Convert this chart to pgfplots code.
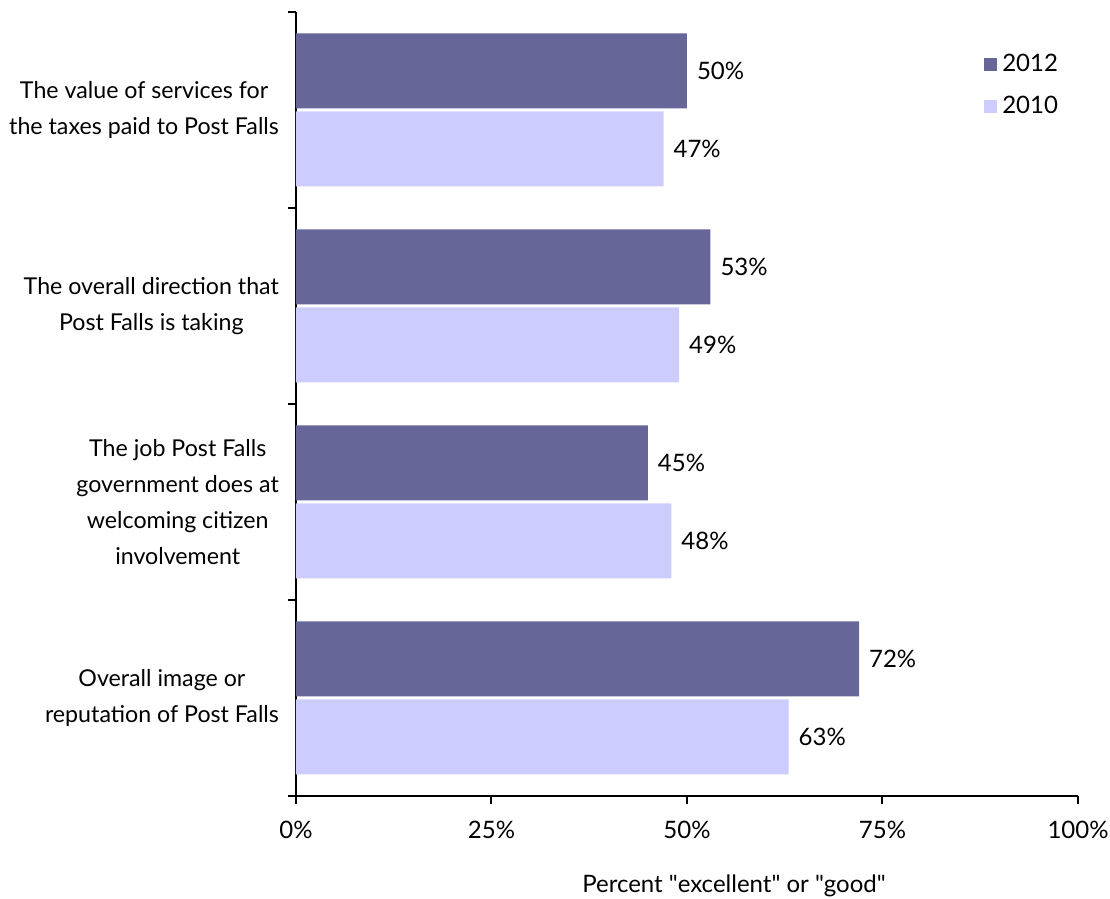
\documentclass[border=0pt]{standalone}
\usepackage{fontspec}
\setmainfont{Lato}
\usepackage{pgfplots}
\pgfplotsset{compat=1.18}
\definecolor{c2012}{RGB}{102,102,153}
\definecolor{c2010}{RGB}{204,204,255}
\newcommand{\chartfont}{\fontsize{12}{18}\selectfont}
\begin{document}
\begin{tikzpicture}[font=\chartfont]
\begin{axis}[
    name=ax,
    scale only axis,
    width=391pt, height=392pt,
    xmin=0, xmax=100, ymin=-0.5, ymax=3.5,
    axis lines*=left,
    xtick pos=lower, ytick pos=left,
    axis line style={line width=1pt},
    every tick/.style={black, line width=1pt},
    tick align=outside,
    major tick length=4pt,
    xtick={0,25,50,75,100},
    xticklabels={0\%,25\%,50\%,75\%,100\%},
    xticklabel style={yshift=-5pt},
    ytick={-0.5,0.5,1.5,2.5,3.5},
    yticklabels={,,,,},
    extra y ticks={0,1,2,3},
    extra y tick labels={{Overall image or\\reputation of Post Falls},{The job Post Falls\\government does at\\welcoming citizen\\involvement},{The overall direction that\\Post Falls is taking},{The value of services for\\the taxes paid to Post Falls}},
    extra y tick style={major tick length=0pt, yticklabel style={align=center, xshift=-5pt, font=\fontsize{11.6}{18}\selectfont}},
    xlabel={Percent \textquotedbl excellent\textquotedbl{} or \textquotedbl good\textquotedbl},
    xlabel style={xshift=23.5pt, yshift=-11pt},
    xbar, bar width=37.5pt,
    point meta=x,
    /pgf/number format/assume math mode=true,
    nodes near coords={\pgfmathprintnumber{\pgfplotspointmeta}\%},
    every node near coord/.append style={anchor=west, xshift=1.5pt, black},
    legend style={draw=none, fill=none, at={(axis description cs:0.872,0.957)}, anchor=north west, row sep=7pt, legend cell align=left},
    legend image code/.code={\fill[#1,draw=none] (0pt,-3.25pt) rectangle (6.5pt,3.25pt); \path (0pt,0pt) -- (7pt,0pt);},
]
\addplot[fill=c2012, draw=none, bar shift=19.5pt] coordinates {(72,0) (45,1) (53,2) (50,3)};
\addplot[fill=c2010, draw=none, bar shift=-19.5pt] coordinates {(63,0) (48,1) (49,2) (47,3)};
\legend{2012,2010}
\end{axis}
\pgfresetboundingbox
\path ([xshift=-148pt,yshift=-51.5pt]ax.south west) rectangle ([xshift=16pt,yshift=6pt]ax.north east);
\end{tikzpicture}
\end{document}
